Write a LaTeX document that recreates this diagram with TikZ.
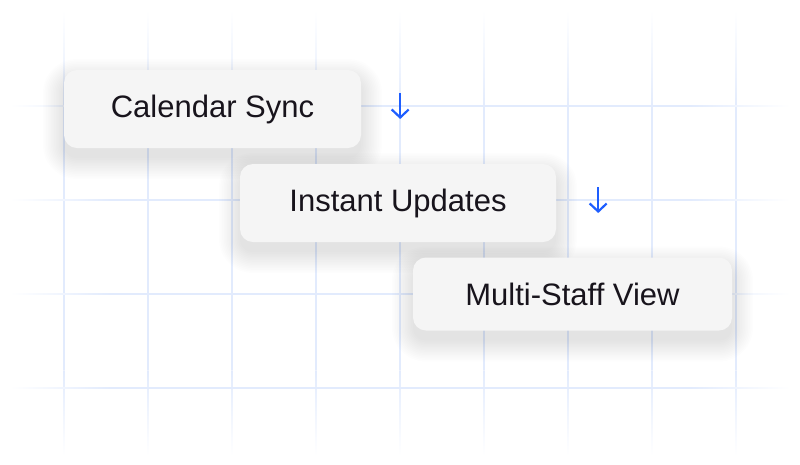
\documentclass[tikz,border=0pt]{standalone}
\usepackage{fontspec}
\setmainfont{Liberation Sans}
\usetikzlibrary{arrows.meta,calc,backgrounds}
\definecolor{gridc}{RGB}{226,235,253}
\definecolor{boxfill}{RGB}{245,245,245}
\definecolor{txt}{RGB}{24,20,28}
\definecolor{arrowc}{RGB}{30,94,255}
\tikzset{
  card/.style={rounded corners=13pt, fill=boxfill, draw=none,
    text=txt, font=\fontsize{31}{36}\selectfont, inner sep=0pt},
  flowarrow/.style={draw=arrowc, line width=2.2pt, -{Straight Barb[length=8pt,width=17pt,line width=2.2pt]}},
}
\newcommand{\cardshadow}[1]{%
  \foreach \k in {0,...,13}{
    \fill[black, opacity=0.006, rounded corners={13pt+\k*1.6pt}]
      ($(#1.north west)+(-\k*1.6,-\k*1.6+10)$) rectangle ($(#1.south east)+(\k*1.6,\k*1.6+10)$);
  }}
\begin{document}
\begin{tikzpicture}[x=1pt,y=-1pt]
\useasboundingbox (0,0) rectangle (800,464);
% cards
\node[card, minimum width=297pt, minimum height=78pt] (b1) at (212.5,109) {Calendar Sync};
\node[card, minimum width=316pt, minimum height=78pt] (b2) at (398,203) {Instant Updates};
\node[card, minimum width=319pt, minimum height=73pt] (b3) at (572.5,294) {Multi-Staff View};
\begin{pgfonlayer}{background}
\fill[white] (0,0) rectangle (800,464);
% vertical grid lines
\foreach \gx in {64,148,232,316,400,484,568,652,736}{
  \shade[top color=white, bottom color=gridc] (\gx-0.6,10) rectangle (\gx+0.6,110);
  \fill[gridc] (\gx-0.6,110) rectangle (\gx+0.6,370);
  \shade[top color=gridc, bottom color=white] (\gx-0.6,370) rectangle (\gx+0.6,456);
}
% horizontal grid lines
\foreach \gy in {106,200,294,388}{
  \shade[left color=white, right color=gridc] (10,\gy-0.6) rectangle (110,\gy+0.6);
  \fill[gridc] (110,\gy-0.6) rectangle (690,\gy+0.6);
  \shade[left color=gridc, right color=white] (690,\gy-0.6) rectangle (790,\gy+0.6);
}
\cardshadow{b1}
\cardshadow{b2}
\cardshadow{b3}
\end{pgfonlayer}
% arrows
\coordinate (a1s) at ($(b1.east)+(39,-16)$);
\coordinate (a1e) at ($(b1.east)+(39,10)$);
\coordinate (a2s) at ($(b2.east)+(42,-16)$);
\coordinate (a2e) at ($(b2.east)+(42,10)$);
\draw[flowarrow] (a1s) -- (a1e);
\draw[flowarrow] (a2s) -- (a2e);
\end{tikzpicture}
\end{document}
